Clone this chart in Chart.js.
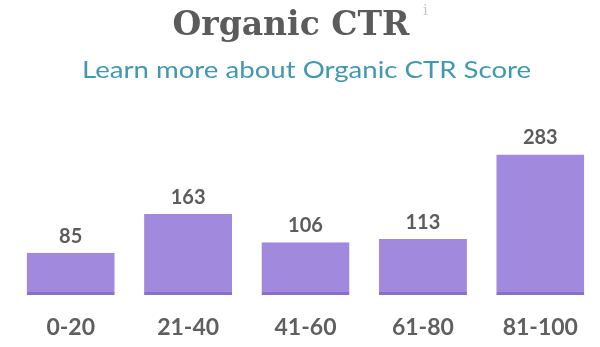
<!DOCTYPE html>
<html lang="en">
<head>
  <meta charset="UTF-8">
  <title>Organic CTR</title>
  <script src="https://cdn.jsdelivr.net/npm/chart.js"></script>
  <style>
    html, body {
      margin: 0;
      padding: 0;
      background: #fff;
    }
    .wrap {
      position: relative;
      width: 600px;
      height: 347px;
      overflow: hidden;
    }
    .title {
      position: absolute;
      top: 2px;
      left: 0;
      width: 582px;
      text-align: center;
      font-family: "DejaVu Serif", serif;
      font-weight: bold;
      font-size: 33px;
      line-height: 44px;
      color: #5b5b5b;
    }
    .info {
      position: absolute;
      top: 1px;
      left: 423px;
      font-family: "DejaVu Serif", serif;
      font-size: 15px;
      color: #c8c8c8;
    }
    .sub {
      position: absolute;
      top: 54px;
      left: 0;
      width: 613px;
      text-align: center;
      font-family: Lato, sans-serif;
      font-size: 24px;
      line-height: 30px;
      color: #4198b0;
      transform: scaleX(1.15);
      transform-origin: 306px 0;
    }
    canvas {
      position: absolute;
      top: 0;
      left: 0;
    }
  </style>
</head>
<body>
  <div class="wrap">
    <canvas id="ctrChart" width="600" height="347"></canvas>
    <div class="title">Organic CTR</div>
    <div class="info">i</div>
    <div class="sub">Learn more about Organic CTR Score</div>
  </div>

  <script>
    const categories = ['0-20', '21-40', '41-60', '61-80', '81-100'];
    const counts = [85, 163, 106, 113, 283];

    // numbers above each bar
    const valueLabels = {
      id: 'valueLabels',
      afterDatasetsDraw(chart) {
        const ctx = chart.ctx;
        const meta = chart.getDatasetMeta(0);
        ctx.save();
        ctx.font = 'bold 20px Lato, sans-serif';
        ctx.fillStyle = '#5c5c5c';
        ctx.textAlign = 'center';
        ctx.textBaseline = 'alphabetic';
        meta.data.forEach(function(bar, i) {
          ctx.fillText(counts[i], bar.x, bar.y - 10);
        });
        ctx.restore();
      }
    };

    const ctx = document.getElementById('ctrChart').getContext('2d');
    const ctrChart = new Chart(ctx, {
      type: 'bar',
      data: {
        labels: categories,
        datasets: [{
          data: counts,
          backgroundColor: '#a18ade',
          borderColor: '#8a70c6',
          borderWidth: { top: 0, left: 0, right: 0, bottom: 3 },
          borderSkipped: false,
          categoryPercentage: 0.75,
          barPercentage: 1
        }]
      },
      options: {
        responsive: false,
        animation: false,
        layout: {
          padding: { top: 146, left: 12, right: 1, bottom: 4 }
        },
        plugins: {
          legend: { display: false },
          tooltip: { enabled: false }
        },
        scales: {
          x: {
            grid: { display: false },
            border: { display: false },
            afterFit: function(scale) {
              scale.height = 48;
            },
            ticks: {
              color: '#5f5f5f',
              padding: 11,
              font: { family: 'Lato', size: 23, weight: 'bold' }
            }
          },
          y: {
            display: false,
            min: 0,
            max: 300
          }
        }
      },
      plugins: [valueLabels]
    });
  </script>
</body>
</html>
